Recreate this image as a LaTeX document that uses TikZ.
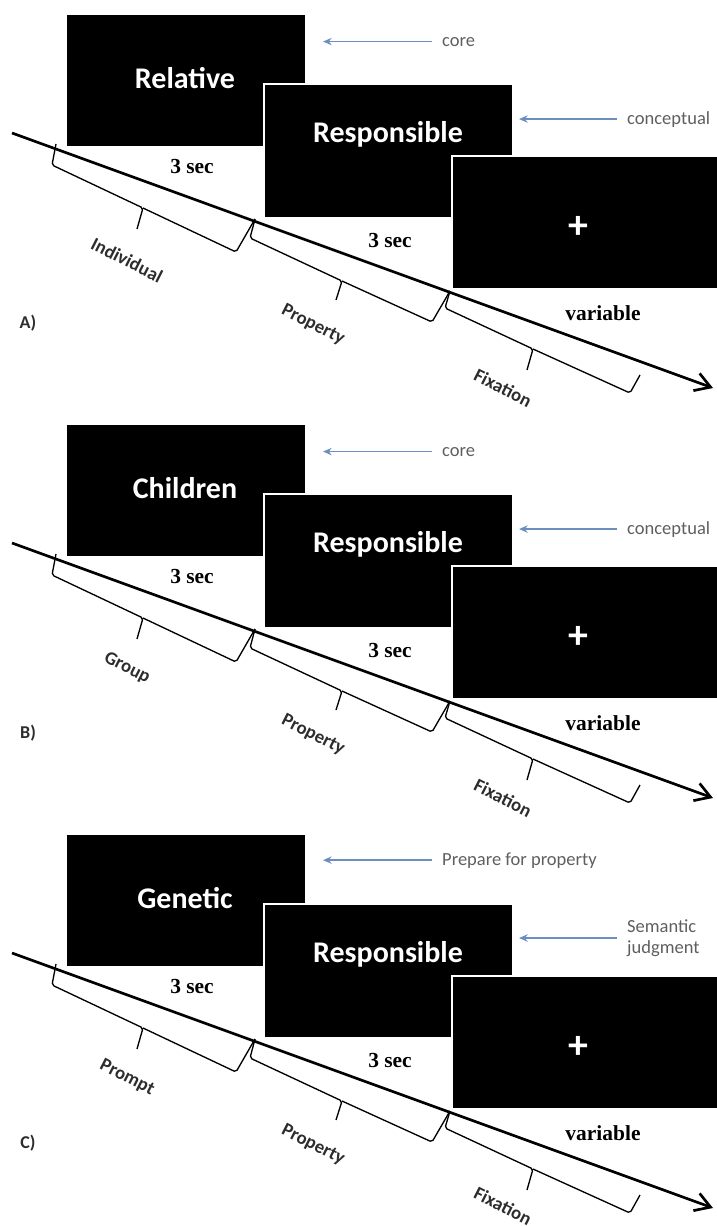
\documentclass[tikz,border=0pt]{standalone}
\usepackage{fontspec}
\setmainfont{Carlito}
\newfontfamily\timesfont{Liberation Serif}
\usetikzlibrary{arrows.meta}

\definecolor{cuecol}{RGB}{108,143,192}
\definecolor{notecol}{RGB}{95,95,95}
\definecolor{phasecol}{RGB}{45,45,45}

\tikzset{
  screen/.style={fill=black, draw=white, line width=0.6mm, inner sep=0pt, anchor=north west},
  word/.style={text=white, font=\bfseries\fontsize{25.6}{30}\selectfont, anchor=base},
  cross/.style={text=white, font=\bfseries\fontsize{34}{36}\selectfont},
  dur/.style={font=\timesfont\bfseries\fontsize{18.3}{20}\selectfont, anchor=base},
  note/.style={text=notecol, font=\fontsize{15.8}{18}\selectfont, inner sep=0pt},
  cue/.style={draw=cuecol, line width=0.45mm, -{Stealth[length=2.6mm,width=2.2mm]}, shorten <=3mm},
  phase/.style={text=phasecol, font=\bfseries\fontsize{16}{18}\selectfont, rotate=-27, inner sep=0pt},
  tline/.style={line width=0.8mm, -{Straight Barb[length=4.5mm,width=5.5mm]}},
  bracket/.style={line width=0.4mm, rounded corners=0.6mm},
  panel/.style={text=phasecol, font=\bfseries\fontsize{15.4}{18}\selectfont}
}

\begin{document}
\begin{tikzpicture}[x=0.3mm, y=-0.3mm]
  \useasboundingbox (0,0) rectangle (717,1226);

  % A)
  \node[screen, minimum width=72mm, minimum height=39.9mm] (scrA1) at (65,13) {};
  \node[screen, minimum width=74.7mm, minimum height=40.2mm] (scrA2) at (263,83) {};
  \node[screen, minimum width=79.8mm, minimum height=39.9mm] (scrA3) at (451,155) {};
  \node[word] (wordA1) at (185,88) {Relative};
  \node[word] (wordA2) at (388,142) {Responsible};
  \node[cross] (fixA) at (578,227) {+};
  \node[dur] (durA1) at (192,173) {3 sec};
  \node[dur] (durA2) at (390,247) {3 sec};
  \node[dur] (durA3) at (603,320) {variable};
  \node[note, anchor=base west] (cueA1) at (442,46) {core};
  \node[note, anchor=base west] (cueA2) at (627,124) {conceptual};
  \draw[cue] (cueA1.west) -- ([xshift=4.8mm]scrA1.east |- cueA1.west);
  \draw[cue] (cueA2.west) -- ([xshift=1.5mm]scrA2.east |- cueA2.west);
  \coordinate (tlA0) at (12,133);
  \coordinate (tlA1) at (713,388);
  \draw[tline] (tlA0) -- (tlA1);
  \draw[bracket] (56,144) -- (52,165) -- (143,208) -- (137,229) (143,208) -- (236,252) -- (255,219);
  \draw[bracket] (255,219) -- (250,238) -- (342,281) -- (336,300) (342,281) -- (432,322) -- (450,291);
  \draw[bracket] (450,291) -- (445,308) -- (533,349) -- (527,370) (533,349) -- (630,393) -- (640,375);
  \node[phase] (phA1) at (127,260) {Individual};
  \node[phase] (phA2) at (313,325) {Property};
  \node[phase] (phA3) at (503,388) {Fixation};
  \node[panel] (tagA) at (28,323) {A)};

  % B)
  \begin{scope}[shift={(0,410)}]
  \node[screen, minimum width=72mm, minimum height=39.9mm] (scrB1) at (65,13) {};
  \node[screen, minimum width=74.7mm, minimum height=40.2mm] (scrB2) at (263,83) {};
  \node[screen, minimum width=79.8mm, minimum height=39.9mm] (scrB3) at (451,155) {};
  \node[word] (wordB1) at (185,88) {Children};
  \node[word] (wordB2) at (388,142) {Responsible};
  \node[cross] (fixB) at (578,227) {+};
  \node[dur] (durB1) at (192,173) {3 sec};
  \node[dur] (durB2) at (390,247) {3 sec};
  \node[dur] (durB3) at (603,320) {variable};
  \node[note, anchor=base west] (cueB1) at (442,46) {core};
  \node[note, anchor=base west] (cueB2) at (627,124) {conceptual};
  \draw[cue] (cueB1.west) -- ([xshift=4.8mm]scrB1.east |- cueB1.west);
  \draw[cue] (cueB2.west) -- ([xshift=1.5mm]scrB2.east |- cueB2.west);
  \coordinate (tlB0) at (12,133);
  \coordinate (tlB1) at (713,388);
  \draw[tline] (tlB0) -- (tlB1);
  \draw[bracket] (56,144) -- (52,165) -- (143,208) -- (137,229) (143,208) -- (236,252) -- (255,219);
  \draw[bracket] (255,219) -- (250,238) -- (342,281) -- (336,300) (342,281) -- (432,322) -- (450,291);
  \draw[bracket] (450,291) -- (445,308) -- (533,349) -- (527,370) (533,349) -- (630,393) -- (640,375);
  \node[phase] (phB1) at (127,258) {Group};
  \node[phase] (phB2) at (313,325) {Property};
  \node[phase] (phB3) at (503,388) {Fixation};
  \node[panel] (tagB) at (28,323) {B)};
  \end{scope}

  % C)
  \begin{scope}[shift={(0,820)}]
  \node[screen, minimum width=72mm, minimum height=39.9mm] (scrC1) at (65,13) {};
  \node[screen, minimum width=74.7mm, minimum height=40.2mm] (scrC2) at (263,83) {};
  \node[screen, minimum width=79.8mm, minimum height=39.9mm] (scrC3) at (451,155) {};
  \node[word] (wordC1) at (185,88) {Genetic};
  \node[word] (wordC2) at (388,142) {Responsible};
  \node[cross] (fixC) at (578,227) {+};
  \node[dur] (durC1) at (192,173) {3 sec};
  \node[dur] (durC2) at (390,247) {3 sec};
  \node[dur] (durC3) at (603,320) {variable};
  \node[note, anchor=base west] (cueC1) at (442,45) {Prepare for property};
  \node[note, anchor=west, align=left] (cueC2) at (627,118) {Semantic\\judgment};
  \draw[cue] (cueC1.west) -- ([xshift=4.8mm]scrC1.east |- cueC1.west);
  \draw[cue] (cueC2.west) -- ([xshift=1.5mm]scrC2.east |- cueC2.west);
  \coordinate (tlC0) at (12,133);
  \coordinate (tlC1) at (713,388);
  \draw[tline] (tlC0) -- (tlC1);
  \draw[bracket] (56,144) -- (52,165) -- (143,208) -- (137,229) (143,208) -- (236,252) -- (255,219);
  \draw[bracket] (255,219) -- (250,238) -- (342,281) -- (336,300) (342,281) -- (432,322) -- (450,291);
  \draw[bracket] (450,291) -- (445,308) -- (533,349) -- (527,370) (533,349) -- (630,393) -- (640,375);
  \node[phase] (phC1) at (127,258) {Prompt};
  \node[phase] (phC2) at (313,325) {Property};
  \node[phase] (phC3) at (503,386) {Fixation};
  \node[panel] (tagC) at (28,323) {C)};
  \end{scope}
\end{tikzpicture}
\end{document}
